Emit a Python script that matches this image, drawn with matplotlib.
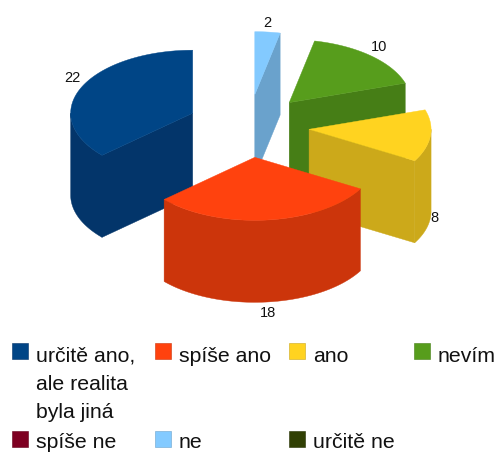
import matplotlib
matplotlib.use("Agg")
import matplotlib.pyplot as plt
import numpy as np
from matplotlib.patches import Polygon, Rectangle

plt.rcParams['font.family'] = ['Liberation Sans', 'DejaVu Sans']

# values, counter-clockwise from the top
categories = ['určitě ano,\nale realita\nbyla jiná', 'spíše ano', 'ano', 'nevím', 'spíše ne', 'ne', 'určitě ne']
values = [22, 18, 8, 10, 0, 2, 0]
top_colors = ['#004586', '#ff420e', '#ffd320', '#579d1c', '#7e0021', '#83caff', '#314004']
side_colors = ['#03356a', '#cc350b', '#cca91a', '#467e16', '#650019', '#6aa2cc', '#273303']

# pie geometry in pixels
cx, cy = 248.4, 126.0
rx, ry = 122.0, 63.0
depth = 82.0
explode = 0.5

label_pos = [(72, 78), (268, 313), (434, 218), (379, 47), None, (267, 23), None]
legend_x = [12, 155, 289, 414, 12, 155, 289]
legend_y = [351, 351, 351, 351, 439, 439, 439]
text_y = [362, 362, 362, 362, 448, 448, 448]
line_pitch = 28

fig = plt.figure(figsize=(4.97, 4.53), dpi=100)
ax = fig.add_axes([0, 0, 1, 1])
ax.set_xlim(0, 497)
ax.set_ylim(453, 0)
ax.axis('off')


def pt(c, ang, dz=0.0):
    a = np.radians(ang)
    return np.column_stack([c[0] + rx * np.cos(a), c[1] - ry * np.sin(a) + dz])


def fill(points, color):
    ax.add_patch(Polygon(points, closed=True, fc=color, ec=color, lw=0.3))


wedges = {}
start = 90.0
for i, v in enumerate(values):
    sweep = 360.0 * v / sum(values)
    wedges[i] = (start, start + sweep)
    start += sweep

for i in [0, 5, 3, 2, 1]:  # back to front
    a0, a1 = wedges[i]
    mid = np.radians((a0 + a1) / 2)
    c = (cx + explode * rx * np.cos(mid), cy - explode * ry * np.sin(mid))

    # cut faces, only those turned to the viewer
    for ang, normal in [(a0, a0 - 90), (a1, a1 + 90)]:
        if np.sin(np.radians(normal)) < -1e-9:
            p = pt(c, [ang])[0]
            fill([c, p, (p[0], p[1] + depth), (c[0], c[1] + depth)], side_colors[i])

    # outer wall, front half of the ellipse
    for lo, hi in [(180, 360), (540, 720)]:
        l, h = max(a0, lo), min(a1, hi)
        if l < h:
            t = np.linspace(l, h, 60)
            fill(np.vstack([pt(c, t), pt(c, t[::-1], depth)]), side_colors[i])

    t = np.linspace(a0, a1, 80)
    fill(np.vstack([[c], pt(c, t)]), top_colors[i])

for i, pos in enumerate(label_pos):
    if pos is not None:
        ax.text(pos[0], pos[1], str(values[i]), fontsize=10.5, color='#111111',
                ha='center', va='center')

for i, name in enumerate(categories):
    ax.add_patch(Rectangle((legend_x[i], legend_y[i] - 8), 16, 16, fc=top_colors[i],
                           ec=side_colors[i], lw=0.4))
    for k, line in enumerate(name.split('\n')):
        ax.text(legend_x[i] + 24, text_y[i] + k * line_pitch, line, fontsize=15.3,
                color='#111111', va='baseline', ha='left')

fig.savefig('out.png', dpi=100)
